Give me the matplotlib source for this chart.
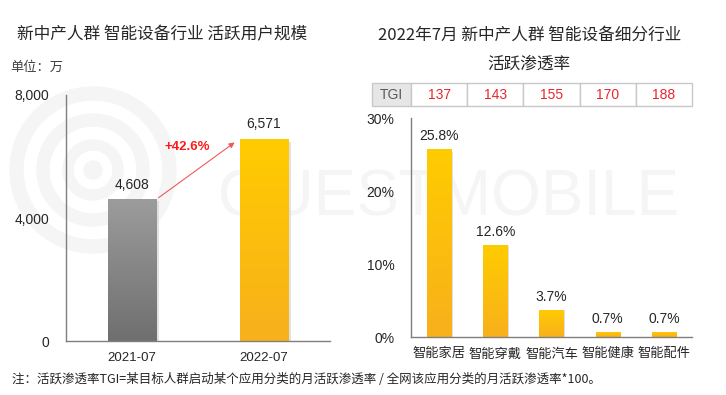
import numpy as np
import matplotlib
matplotlib.use('Agg')
import matplotlib.pyplot as plt
from matplotlib.patches import Rectangle, Circle, Wedge
from matplotlib.colors import LinearSegmentedColormap
import matplotlib.transforms as mtransforms

plt.rcParams['font.family'] = ['Liberation Sans', 'Noto Sans CJK SC', 'DejaVu Sans']

# data
months = ['2021-07', '2022-07']
active_users = [4608, 6571]          # 万
growth_label = '+42.6%'

segments = ['智能家居', '智能穿戴', '智能汽车', '智能健康', '智能配件']
penetration = [25.8, 12.6, 3.7, 0.7, 0.7]   # %
tgi = [137, 143, 155, 170, 188]

GRAY_CMAP = LinearSegmentedColormap.from_list('g', ['#6f6f6f', '#9c9c9c'])
GOLD_CMAP = LinearSegmentedColormap.from_list('y', ['#f8b01c', '#ffcc00'])
TEXT = '#262626'
SPINE = '#7f7f7f'


def gradient_bars(ax, bars, cmap):
    grad = np.linspace(0, 1, 256).reshape(-1, 1)
    for b in bars:
        x, y = b.get_x(), b.get_y()
        w, h = b.get_width(), b.get_height()
        # soft shadow on the right
        sh = Rectangle((x + w * 0.06, y), w, h * 0.985, color='#d6d6d6',
                       alpha=0.7, zorder=1.5, linewidth=0)
        ax.add_patch(sh)
        im = ax.imshow(grad, cmap=cmap, origin='lower', aspect='auto',
                       extent=(x, x + w, y, y + h), zorder=2)
        im.set_clip_path(b)
        b.set_facecolor('none')


fig = plt.figure(figsize=(7.26, 3.95), dpi=100)

# faint watermark, behind everything
wm = '#f5f5f5'
for r, wd in [(0.83, 0.13), (0.56, 0.12), (0.30, 0.10)]:
    fig.patches.append(Wedge((0.93, 2.25), r, 0, 360, width=wd, color=wm,
                             transform=fig.dpi_scale_trans, zorder=-5))
fig.patches.append(Circle((0.93, 2.25), 0.09, color=wm,
                          transform=fig.dpi_scale_trans, zorder=-5))
fig.text(0.618, 0.50, 'QUESTMOBILE', fontsize=46, color=wm, ha='center',
         va='center', zorder=-5, family=['Liberation Sans Narrow', 'Liberation Sans'])

# ---------------- left chart ----------------
ax1 = fig.add_axes([0.0909, 0.1367, 0.3636, 0.6228])
ax1.patch.set_alpha(0)
x1 = np.arange(len(months))
w1 = 0.37
bars1 = ax1.bar(x1, active_users, width=w1, zorder=2)
gradient_bars(ax1, [bars1[0]], GRAY_CMAP)
gradient_bars(ax1, [bars1[1]], GOLD_CMAP)
ax1.set_xlim(-0.5, 1.5)
ax1.set_ylim(0, 8000)
ax1.set_yticks([0, 4000, 8000])
ax1.set_yticklabels([f'{v:,}' for v in [0, 4000, 8000]])
ax1.set_xticks(x1)
ax1.set_xticklabels(months)
for i, v in enumerate(active_users):
    ax1.text(i, v + 250, f'{v:,}', ha='center', va='bottom', fontsize=10,
             color=TEXT)
ax1.annotate('', xy=(1 - w1 / 2 - 0.02, active_users[1] - 60),
             xytext=(w1 / 2, active_users[0]),
             arrowprops=dict(arrowstyle='-|>', color='#f05a5a', lw=0.8,
                             mutation_scale=8), zorder=3)
ax1.text(0.42, 6320, growth_label, color='#ff1a1a', fontsize=9.5,
         fontweight='bold', ha='center', va='center')

# ---------------- right chart ----------------
ax2 = fig.add_axes([0.5661, 0.1468, 0.3871, 0.5544])
ax2.patch.set_alpha(0)
x2 = np.arange(len(segments))
bars2 = ax2.bar(x2, penetration, width=0.43, zorder=2)
gradient_bars(ax2, bars2, GOLD_CMAP)
ax2.set_xlim(-0.5, 4.5)
ax2.set_ylim(0, 30)
ax2.set_yticks([0, 10, 20, 30])
ax2.set_yticklabels([f'{v}%' for v in [0, 10, 20, 30]])
ax2.set_xticks(x2)
ax2.set_xticklabels(segments)
for i, v in enumerate(penetration):
    ax2.text(i, v + 0.8, f'{v}%', ha='center', va='bottom', fontsize=10,
             color=TEXT)

for ax in (ax1, ax2):
    for s in ('top', 'right'):
        ax.spines[s].set_visible(False)
    for s in ('left', 'bottom'):
        ax.spines[s].set_color(SPINE)
        ax.spines[s].set_linewidth(1)
    ax.tick_params(length=0, colors=TEXT, labelsize=10)
    ax.tick_params(axis='y', pad=12)
    ax.tick_params(axis='x', pad=8, labelsize=9.5)

# TGI strip above the right chart
tr = mtransforms.blended_transform_factory(ax2.transData, fig.transFigure)
ybot, ytop = 0.7316, 0.7899
cell_left = -0.5 - 39 / 56.2
ax2.add_patch(Rectangle((cell_left, ybot), -0.5 - cell_left, ytop - ybot,
                        transform=tr, clip_on=False, facecolor='#e6e6e6',
                        edgecolor='#c8c8c8', lw=1))
ax2.text((cell_left - 0.5) / 2, (ybot + ytop) / 2, 'TGI', transform=tr,
         ha='center', va='center', fontsize=10, color='#595959')
for i, t in enumerate(tgi):
    ax2.add_patch(Rectangle((i - 0.5, ybot), 1, ytop - ybot, transform=tr,
                            clip_on=False, facecolor='white',
                            edgecolor='#c8c8c8', lw=1))
    ax2.text(i, (ybot + ytop) / 2, str(t), transform=tr, ha='center',
             va='center', fontsize=10, color='#e8262d')

# titles and notes
cjk = ['Noto Sans CJK SC', 'DejaVu Sans']
fig.text(0.023, 0.911, '新中产人群 智能设备行业 活跃用户规模', fontsize=12,
         color=TEXT, va='center', family=cjk)
fig.text(0.014, 0.830, '单位：万', fontsize=9.5, color='#404040',
         va='center', family=cjk)
fig.text(0.729, 0.911, '2022年7月 新中产人群 智能设备细分行业', fontsize=12,
         color=TEXT, ha='center', va='center', family=cjk)
fig.text(0.729, 0.838, '活跃渗透率', fontsize=12, color=TEXT,
         ha='center', va='center', family=cjk)
fig.text(0.016, 0.038,
         '注：活跃渗透率TGI=某目标人群启动某个应用分类的月活跃渗透率 / 全网该应用分类的月活跃渗透率*100。',
         fontsize=9, color=TEXT, va='center', family=cjk)

fig.savefig('out.png', dpi=100)
